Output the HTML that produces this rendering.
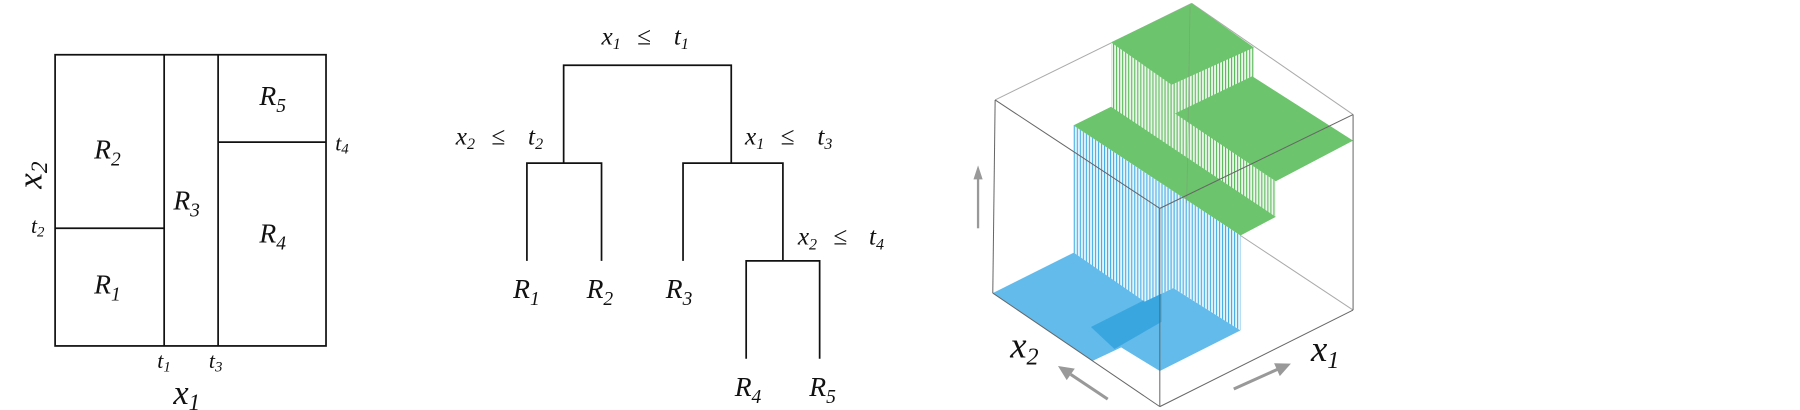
<!DOCTYPE html>
<html><head><meta charset="utf-8"><style>
html,body{margin:0;padding:0;background:#fff;width:1800px;height:410px;overflow:hidden}
svg text{font-family:"Liberation Serif",serif;font-style:italic;fill:#111}
</style></head><body>
<svg width="1800" height="410" viewBox="0 0 1568 352" preserveAspectRatio="none">
<g stroke="#111" stroke-width="1.5" fill="none">
  <rect x="48" y="47" width="236" height="250"/>
  <line x1="143" y1="47" x2="143" y2="297"/>
  <line x1="190" y1="47" x2="190" y2="297"/>
  <line x1="48" y1="196" x2="143" y2="196"/>
  <line x1="190" y1="122" x2="284" y2="122"/>
</g>
<g font-size="24">
  <text x="82" y="136">R<tspan font-size="17" dy="6">2</tspan></text>
  <text x="82" y="252">R<tspan font-size="17" dy="6">1</tspan></text>
  <text x="151" y="180">R<tspan font-size="17" dy="6">3</tspan></text>
  <text x="226" y="90">R<tspan font-size="17" dy="6">5</tspan></text>
  <text x="226" y="208">R<tspan font-size="17" dy="6">4</tspan></text>
</g>
<g font-size="19">
  <text x="27" y="200">t<tspan font-size="13" dy="3">2</tspan></text>
  <text x="292" y="129">t<tspan font-size="13" dy="3">4</tspan></text>
  <text x="137" y="316">t<tspan font-size="13" dy="3">1</tspan></text>
  <text x="182" y="316">t<tspan font-size="13" dy="3">3</tspan></text>
</g>
<text x="151" y="347" font-size="30">x<tspan font-size="20" dy="5">1</tspan></text>
<text transform="translate(36,162) rotate(-90)" font-size="30">x<tspan font-size="20" dy="5">2</tspan></text>

<g stroke="#111" stroke-width="1.5" fill="none">
  <polyline points="491,140 491,56 637,56 637,140"/>
  <polyline points="459,224 459,140 524,140 524,224"/>
  <polyline points="595,224 595,140 682,140 682,224"/>
  <polyline points="650,308 650,224 714,224 714,308"/>
</g>
<g font-size="22">
  <text x="524" y="38">x<tspan font-size="14" dy="4">1</tspan><tspan x="555" dy="-4">≤</tspan><tspan x="587">t</tspan><tspan font-size="14" dy="4">1</tspan></text>
  <text x="397" y="124">x<tspan font-size="14" dy="4">2</tspan><tspan x="428" dy="-4">≤</tspan><tspan x="460">t</tspan><tspan font-size="14" dy="4">2</tspan></text>
  <text x="649" y="124">x<tspan font-size="14" dy="4">1</tspan><tspan x="680" dy="-4">≤</tspan><tspan x="712">t</tspan><tspan font-size="14" dy="4">3</tspan></text>
  <text x="695" y="210">x<tspan font-size="14" dy="4">2</tspan><tspan x="726" dy="-4">≤</tspan><tspan x="757">t</tspan><tspan font-size="14" dy="4">4</tspan></text>
</g>
<g font-size="24">
  <text x="447" y="256">R<tspan font-size="17" dy="6">1</tspan></text>
  <text x="511" y="256">R<tspan font-size="17" dy="6">2</tspan></text>
  <text x="580" y="256">R<tspan font-size="17" dy="6">3</tspan></text>
  <text x="640" y="340">R<tspan font-size="17" dy="6">4</tspan></text>
  <text x="705" y="340">R<tspan font-size="17" dy="6">5</tspan></text>
</g>

<g stroke="#999" stroke-width="2" fill="#999">
  <line x1="852" y1="196" x2="852" y2="152"/><polygon points="848,154 856,154 852,142" stroke="none"/>
</g>
<svg x="853.7" y="0" width="348.4" height="352" viewBox="0 0 1190 1210" preserveAspectRatio="none">
  <defs>
    <pattern id="vb" width="9" height="10" patternUnits="userSpaceOnUse"><rect width="9" height="10" fill="#e4f4fc"/><rect width="3" height="10" fill="#3fa9e2"/></pattern>
    <pattern id="vg" width="9" height="10" patternUnits="userSpaceOnUse"><rect width="9" height="10" fill="#eaf6ea"/><rect width="3" height="10" fill="#52b552"/></pattern>
  </defs>
  <g stroke="#aaa" stroke-width="3" fill="none">
    <line x1="45" y1="295" x2="630" y2="10"/><line x1="1110" y1="338" x2="630" y2="10"/>
    <line x1="775" y1="695" x2="1110" y2="915"/><line x1="280" y1="745" x2="535" y2="615"/>
  </g>
  <polygon points="38,865 280,745 490,890 575,850 775,975 535,1095 420,1025 335,1065" fill="#62bbea"/>
  <polygon points="330,965 540,860 540,950 400,1030" fill="#3aa6e0"/>
  <polygon points="278,370 278,745 490,890 575,850 775,975 775,695" fill="url(#vb)"/>
  <polygon points="390,125 390,320 880,640 880,535 815,490 815,140" fill="url(#vg)"/>
  <polygon points="390,125 630,10 815,140 570,250" fill="#6cc46c"/>
  <polygon points="580,335 810,225 1110,415 880,535" fill="#6cc46c"/>
  <polygon points="278,370 390,315 880,640 775,695" fill="#6cc46c"/>
  <line x1="625" y1="20" x2="615" y2="600" stroke="#888" stroke-width="2" opacity="0.5"/>
  <g stroke="#666" stroke-width="3" fill="none">
    <line x1="45" y1="295" x2="38" y2="865"/><line x1="535" y1="615" x2="535" y2="1200"/>
    <line x1="1110" y1="338" x2="1110" y2="915"/><line x1="45" y1="295" x2="535" y2="615"/>
    <line x1="535" y1="615" x2="1110" y2="338"/><line x1="38" y1="865" x2="535" y2="1200"/>
    <line x1="535" y1="1200" x2="1110" y2="915"/>
  </g>
  <g stroke="#999" stroke-width="9" fill="#999">
    <line x1="380" y1="1178" x2="270" y2="1105"/><polygon points="258,1122 282,1088 232,1080" stroke="none"/>
    <line x1="755" y1="1148" x2="885" y2="1090"/><polygon points="875,1072 892,1110 925,1073" stroke="none"/>
  </g>
</svg>
<text x="880" y="307" font-size="32">x<tspan font-size="21" dy="6">2</tspan></text>
<text x="1142" y="310" font-size="32">x<tspan font-size="21" dy="6">1</tspan></text>
</svg>
</body></html>
